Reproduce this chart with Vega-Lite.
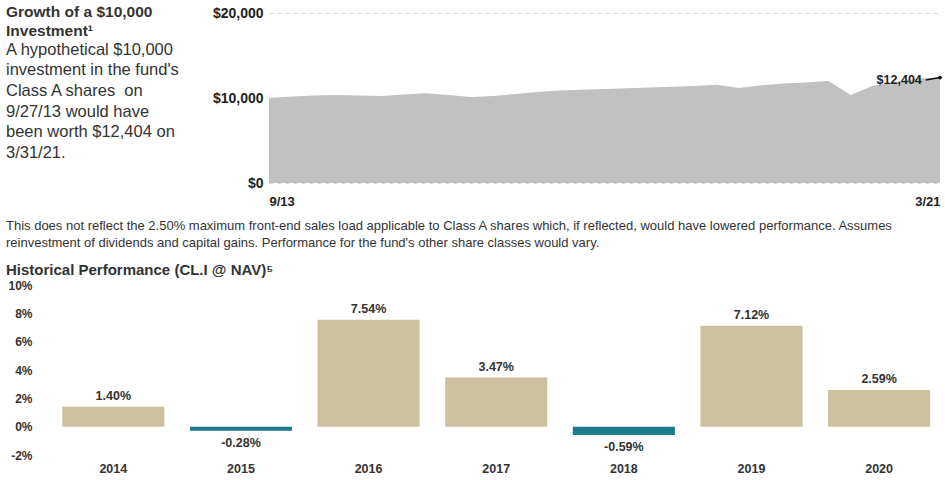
{
  "$schema": "https://vega.github.io/schema/vega-lite/v6.json",
  "padding": {"left": 5, "top": 5, "right": 0, "bottom": 0},
  "background": "white",
  "config": {
    "view": {"stroke": null},
    "font": "Liberation Sans",
    "locale": {"number": {"decimal": ".", "thousands": ",", "grouping": [3], "currency": ["$", ""], "minus": "-"}},
    "axis": {"labelColor": "#333", "labelFont": "Liberation Sans", "labelFontWeight": "bold", "ticks": false, "tickSize": 0, "domain": false}
  },
  "spacing": 12,
  "vconcat": [
    {
      "spacing": 0,
      "hconcat": [
        {
          "width": 173,
          "height": 1,
          "data": {"values": [{}]},
          "mark": {"type": "point", "size": 0, "opacity": 0},
          "title": {
            "text": ["Growth of a $10,000", "Investment¹"],
            "subtitle": ["A hypothetical $10,000", "investment in the fund's", "Class A shares\u00a0 on", "9/27/13 would have", "been worth $12,404 on", "3/31/21."],
            "orient": "bottom",
            "anchor": "start",
            "frame": "group",
            "offset": -9,
            "dx": -33,
            "font": "Liberation Sans",
            "fontSize": 15.5,
            "fontWeight": "bold",
            "color": "#333",
            "lineHeight": 19,
            "subtitleFont": "Liberation Sans",
            "subtitleFontSize": 16.5,
            "subtitleFontWeight": "normal",
            "subtitleColor": "#333",
            "subtitleLineHeight": 20.7,
            "subtitlePadding": 2
          }
        },
        {
          "width": 671,
          "height": 170,
          "layer": [
            {
              "data": {"values": [
                {"date": "2013-09-27", "value": 10000},
                {"date": "2013-12-31", "value": 10180},
                {"date": "2014-03-31", "value": 10280},
                {"date": "2014-06-30", "value": 10350},
                {"date": "2014-09-30", "value": 10300},
                {"date": "2014-12-31", "value": 10240},
                {"date": "2015-03-31", "value": 10400},
                {"date": "2015-06-30", "value": 10560},
                {"date": "2015-09-30", "value": 10350},
                {"date": "2015-12-31", "value": 10130},
                {"date": "2016-03-31", "value": 10240},
                {"date": "2016-06-30", "value": 10480},
                {"date": "2016-09-30", "value": 10700},
                {"date": "2016-12-31", "value": 10880},
                {"date": "2017-03-31", "value": 10980},
                {"date": "2017-06-30", "value": 11060},
                {"date": "2017-09-30", "value": 11150},
                {"date": "2017-12-31", "value": 11250},
                {"date": "2018-03-31", "value": 11330},
                {"date": "2018-06-30", "value": 11410},
                {"date": "2018-09-30", "value": 11560},
                {"date": "2018-12-31", "value": 11180},
                {"date": "2019-03-31", "value": 11490},
                {"date": "2019-06-30", "value": 11700},
                {"date": "2019-09-30", "value": 11820},
                {"date": "2019-12-31", "value": 12000},
                {"date": "2020-03-31", "value": 10350},
                {"date": "2020-06-30", "value": 11450},
                {"date": "2020-09-30", "value": 11900},
                {"date": "2020-12-31", "value": 12280},
                {"date": "2021-03-31", "value": 12404}
              ]},
              "mark": {"type": "area", "color": "#c1c1c1", "interpolate": "linear"},
              "encoding": {
                "x": {"field": "date", "type": "temporal", "title": null,
                  "axis": {"values": [{"year": 2013, "month": 9, "date": 27}, {"year": 2021, "month": 3, "date": 31}], "format": "%-m/%y", "labelFlush": true, "labelPadding": 12, "labelFontSize": 13, "grid": false, "labelColor": "#222"}},
                "y": {"field": "value", "type": "quantitative", "title": null,
                  "scale": {"domain": [0, 20000], "nice": false},
                  "axis": {"values": [0, 10000, 20000], "format": "$,.0f", "labelFontSize": 14, "labelPadding": 6, "grid": true, "gridDash": [4, 4], "gridColor": "#d6d6d6", "gridWidth": 1, "labelColor": "#222"}}
              }
            },
            {
              "data": {"values": [{"date": "2021-02-01", "value": 12118}, {"date": "2021-03-31", "value": 12404}]},
              "mark": {"type": "line", "color": "#111", "strokeWidth": 1.5},
              "encoding": {
                "x": {"field": "date", "type": "temporal"},
                "y": {"field": "value", "type": "quantitative"}
              }
            },
            {
              "data": {"values": [{"date": "2021-03-31", "value": 12404}]},
              "mark": {"type": "point", "filled": true, "color": "#111", "size": 14, "opacity": 1},
              "encoding": {
                "x": {"field": "date", "type": "temporal"},
                "y": {"field": "value", "type": "quantitative"}
              }
            },
            {
              "data": {"values": [{"date": "2021-02-01", "value": 12118, "label": "$12,404"}]},
              "mark": {"type": "text", "align": "right", "baseline": "middle", "dx": -4, "dy": 0, "fontWeight": "bold", "fontSize": 12.5, "color": "#222"},
              "encoding": {
                "x": {"field": "date", "type": "temporal"},
                "y": {"field": "value", "type": "quantitative"},
                "text": {"field": "label"}
              }
            }
          ]
        }
      ]
    },
    {
      "width": 908,
      "height": 170,
      "title": {
        "text": ["This does not reflect the 2.50% maximum front-end sales load applicable to Class A shares which, if reflected, would have lowered performance. Assumes", "reinvestment of dividends and capital gains. Performance for the fund's other share classes would vary."],
        "subtitle": "Historical Performance (CL.I @ NAV)⁵",
        "anchor": "start",
        "frame": "bounds",
        "dx": -2,
        "offset": 1,
        "font": "Liberation Sans",
        "fontSize": 13,
        "fontWeight": "normal",
        "color": "#333",
        "lineHeight": 17,
        "subtitleFont": "Liberation Sans",
        "subtitleFontSize": 15,
        "subtitleFontWeight": "bold",
        "subtitleColor": "#333",
        "subtitlePadding": 13
      },
      "data": {"values": [
        {"year": "2014", "ret": 0.0140},
        {"year": "2015", "ret": -0.0028},
        {"year": "2016", "ret": 0.0754},
        {"year": "2017", "ret": 0.0347},
        {"year": "2018", "ret": -0.0059},
        {"year": "2019", "ret": 0.0712},
        {"year": "2020", "ret": 0.0259}
      ]},
      "encoding": {
        "y": {"field": "ret", "type": "quantitative", "title": null,
          "scale": {"domain": [-0.02, 0.1], "nice": false, "zero": false},
          "axis": {"values": [-0.02, 0, 0.02, 0.04, 0.06, 0.08, 0.1], "format": ".0%", "grid": false, "labelPadding": 7, "labelFontSize": 12}}
      },
      "layer": [
        {
          "mark": {"type": "bar"},
          "encoding": {
            "x": {"field": "year", "type": "nominal", "sort": null, "title": null,
              "scale": {"paddingInner": 0.2, "paddingOuter": 0.157, "align": 0.58},
              "axis": {"labelAngle": 0, "labelPadding": 7, "labelFontSize": 12.5}},
            "color": {"condition": {"test": "datum.ret < 0", "value": "#1b7a8e"}, "value": "#cdc09e"}
          }
        },
        {
          "data": {"values": [{}]},
          "mark": {"type": "rule", "color": "#888", "strokeWidth": 1.5},
          "encoding": {"y": {"datum": 0, "type": "quantitative"}}
        },
        {
          "transform": [{"filter": "datum.ret >= 0"}],
          "mark": {"type": "text", "baseline": "bottom", "dy": -4, "fontWeight": "bold", "fontSize": 12.5, "color": "#333"},
          "encoding": {
            "x": {"field": "year", "type": "nominal", "sort": null},
            "text": {"field": "ret", "type": "quantitative", "format": ".2%"}
          }
        },
        {
          "transform": [{"filter": "datum.ret < 0"}],
          "mark": {"type": "text", "baseline": "top", "dy": 6, "fontWeight": "bold", "fontSize": 12.5, "color": "#333"},
          "encoding": {
            "x": {"field": "year", "type": "nominal", "sort": null},
            "text": {"field": "ret", "type": "quantitative", "format": ".2%"}
          }
        }
      ]
    }
  ]
}
